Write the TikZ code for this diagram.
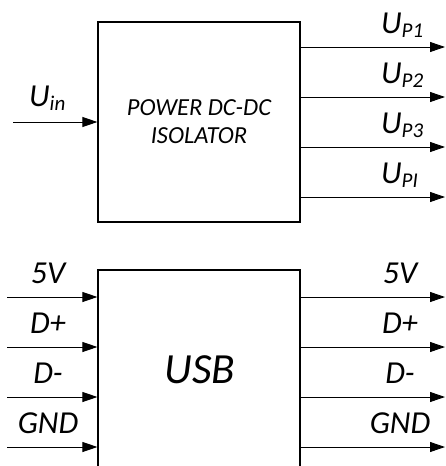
\documentclass[tikz,border=0pt]{standalone}
\usepackage{fontspec}
\setmainfont{Carlito}
\usetikzlibrary{arrows.meta}
\newcommand{\sigsub}[2]{#1\raisebox{-4pt}{\fontsize{21}{21}\selectfont #2}}

\tikzset{
  blk/.style={draw, line width=1.2pt, inner sep=0pt},
  sig/.style={line width=0.9pt, -{Triangle[length=15pt,width=10pt]}},
  lbl/.style={font=\fontsize{32}{32}\selectfont\itshape, inner sep=0pt, anchor=base},
}

\begin{document}
\begin{tikzpicture}[x=1pt, y=-1pt]
    \useasboundingbox (0,0) rectangle (445,466);
    \clip (0,0) rectangle (445,466);
    % power isolator
    \node[blk, minimum width=202pt, minimum height=200pt, align=center, font=\fontsize{24.5}{28}\selectfont\itshape] (pwr) at (199,122) {POWER DC-DC\\ISOLATOR};
    \coordinate (uin) at (13,122); \draw[sig] (uin) -- (uin -| pwr.west);
    \node[lbl, anchor=base west] (uinlbl) at (29,106) {\sigsub{U}{in}};
    \foreach \y/\s [count=\i] in {47/P1, 97/P2, 147/P3, 197/PI} {
        \coordinate (out\i) at (445,\y); \draw[sig] (out\i -| pwr.east) -- (out\i);
        \node[lbl, anchor=base west] (up\i) at (381,\y-14) {\sigsub{U}{\s}};
    }
    % usb
    \node[blk, minimum width=202pt, minimum height=240pt] (usb) at (199,390) {};
    \node[font=\fontsize{43}{43}\selectfont\itshape, inner sep=0pt] (usbtxt) at (200,370) {USB};
    \foreach \y/\t [count=\i] in {297/5V, 347/D+, 397/D-, 447/GND} {
        \coordinate (inl\i) at (7,\y); \coordinate (outr\i) at (445,\y);
        \draw[sig] (inl\i) -- (inl\i -| usb.west); \draw[sig] (outr\i -| usb.east) -- (outr\i);
        \node[lbl] (lbll\i) at (48,\y-14) {\t}; \node[lbl] (lblr\i) at (400,\y-14) {\t};
    }
\end{tikzpicture}
\end{document}
